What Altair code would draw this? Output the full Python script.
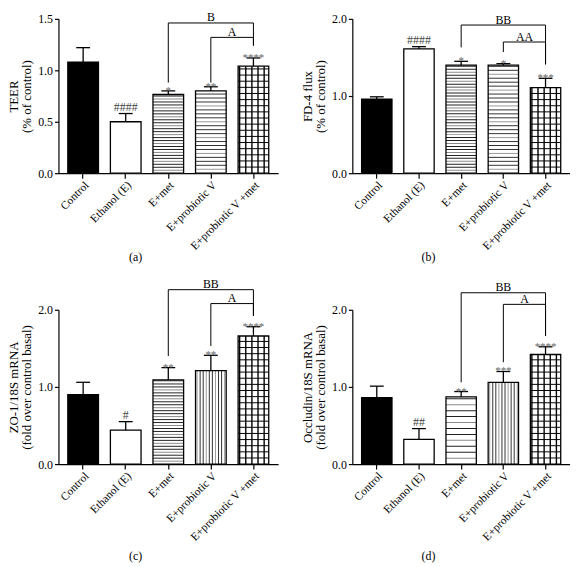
import altair as alt
import pandas as pd
import numpy as np

FONT = "Liberation Serif"

categories = ["Control", "Ethanol (E)", "E+met", "E+probiotic V", "E+probiotic V +met"]

# (a) TEER
teer_mean = [1.08, 0.50, 0.765, 0.80, 1.04]
teer_sem = [0.14, 0.08, 0.035, 0.04, 0.08]
teer_sig = ["", "####", "*", "**", "****"]
teer_br = {"outer": ("B", 1.46, 0.88, 1.24), "inner": ("A", 1.32, 0.88, 1.24)}

# (b) FD-4 flux
fd4_mean = [0.96, 1.61, 1.40, 1.40, 1.11]
fd4_sem = [0.03, 0.03, 0.05, 0.02, 0.12]
fd4_sig = ["", "####", "*", "*", "***"]
fd4_br = {"outer": ("BB", 1.92, 1.63, 1.41), "inner": ("AA", 1.70, 1.57, 1.41)}

# (c) ZO-1/18S mRNA
zo1_mean = [0.90, 0.44, 1.09, 1.21, 1.66]
zo1_sem = [0.16, 0.11, 0.16, 0.20, 0.12]
zo1_sig = ["", "#", "**", "**", "****"]
zo1_br = {"outer": ("BB", 2.26, 1.40, 1.92), "inner": ("A", 2.08, 1.53, 1.92)}

# (d) Occludin/18S mRNA
occ_mean = [0.86, 0.32, 0.87, 1.06, 1.42]
occ_sem = [0.15, 0.14, 0.07, 0.14, 0.10]
occ_sig = ["", "##", "**", "***", "****"]
occ_br = {"outer": ("BB", 2.22, 1.06, 1.66), "inner": ("A", 2.07, 1.32, 1.66)}

# bar fill patterns per panel (style only)
patterns_top = ["solid", "open", "hdense", "hline", "grid"]
patterns_bot = ["solid", "open", "hdense", "vline", "grid"]


def panel(letter, ytitle, means, sems, sig, br, ymax, width, height, patterns,
          hstep_px=3.0, title_offset=0):
    px_per_unit = height / ymax
    xscale = alt.Scale(domain=categories, paddingInner=0.28, paddingOuter=0.22)
    step = width / (5 - 0.28 + 0.44)
    bw = step * 0.72
    yscale = alt.Scale(domain=[0, ymax], nice=False, zero=True)
    xaxis = alt.Axis(title=None, labelAngle=-45, labelAlign="right", labelBaseline="top",
                     tickSize=5, labelPadding=1, labelFontSize=11.5, labelFont=FONT,
                     domainColor="black", tickColor="black", labelColor="black",
                     domainWidth=1.2, tickWidth=1.2)
    yaxis = alt.Axis(title=ytitle, values=list(np.arange(0, ymax + 0.01, 0.5)), format=".1f",
                     tickSize=4, labelFontSize=12, labelFont=FONT, labelPadding=2,
                     titleFont=FONT, titleFontSize=13, titleFontWeight="normal",
                     titleLineHeight=13, titlePadding=4, domainColor="black",
                     tickColor="black", labelColor="black", titleColor="black", grid=False,
                     domainWidth=1.2, tickWidth=1.2)
    X = alt.X("cat:N", sort=categories, scale=xscale, axis=xaxis)

    df = pd.DataFrame({
        "cat": categories,
        "mean": means,
        "top": [m + s for m, s in zip(means, sems)],
        "sig": sig,
        "fill": ["black" if p == "solid" else "white" for p in patterns],
        "kind": ["hash" if s.startswith("#") else "star" for s in sig],
    })

    # pattern lines (decoration only)
    hrows, vrows = [], []
    for c, m, p in zip(categories, means, patterns):
        if p == "hdense":
            st = hstep_px / px_per_unit
            for i, yv in enumerate(np.arange(st, m, st)):
                hrows.append({"cat": c, "y": yv, "col": "#222222" if i % 3 else "#8a8a8a", "w": 1.0})
        elif p == "hline":
            st = 4.0 / px_per_unit
            for i, yv in enumerate(np.arange(st, m, st)):
                hrows.append({"cat": c, "y": yv, "col": "#333333" if i % 4 else "#999999", "w": 1.0})
        elif p == "vline":
            for s in range(10):
                vrows.append({"cat": c, "sub": s, "y0": 0, "y1": m,
                              "col": "#333333" if s % 3 else "#999999", "w": 1.0})
        elif p == "grid":
            st = 6.2 / px_per_unit
            for yv in np.arange(st, m, st):
                hrows.append({"cat": c, "y": yv, "col": "black", "w": 1.4})
            for s in range(0, 10, 2):
                vrows.append({"cat": c, "sub": s, "y0": 0, "y1": m, "col": "black", "w": 1.4})
    hdf = pd.DataFrame(hrows)
    vdf = pd.DataFrame(vrows)

    base = alt.Chart(df)
    bars = base.mark_bar(strokeWidth=0).encode(
        x=X, y=alt.Y("mean:Q", scale=yscale, axis=yaxis),
        fill=alt.Fill("fill:N", scale=None))
    hl = alt.Chart(hdf).mark_tick(size=bw, opacity=1).encode(
        x=alt.X("cat:N", sort=categories), y="y:Q",
        color=alt.Color("col:N", scale=None), strokeWidth=alt.StrokeWidth("w:Q", scale=None))
    layers = [bars, hl]
    if len(vdf):
        vl = alt.Chart(vdf).mark_rule(opacity=1).encode(
            x=alt.X("cat:N", sort=categories),
            xOffset=alt.XOffset("sub:O", scale=alt.Scale(domain=list(range(10)))),
            y="y0:Q", y2="y1:Q",
            color=alt.Color("col:N", scale=None), strokeWidth=alt.StrokeWidth("w:Q", scale=None))
        layers.append(vl)
    outline = base.mark_bar(fillOpacity=0, stroke="black", strokeWidth=1.3).encode(x="cat:N", y="mean:Q")
    err = base.mark_rule(color="black", strokeWidth=1.3).encode(x="cat:N", y="mean:Q", y2="top:Q")
    cap = base.mark_tick(size=14, thickness=1.3, color="black", opacity=1).encode(x="cat:N", y="top:Q")
    stars = base.transform_filter("datum.kind == 'star'").mark_text(
        font=FONT, fontSize=11, color="#666666", baseline="alphabetic", dy=3).encode(
        x="cat:N", y="top:Q", text="sig:N")
    hashes = base.transform_filter("datum.kind == 'hash' && datum.sig != ''").mark_text(
        font=FONT, fontSize=12, color="#444444", baseline="alphabetic", dy=-3).encode(
        x="cat:N", y="top:Q", text="sig:N")
    layers += [outline, err, cap, stars, hashes]

    # brackets
    brows, lrows = [], []
    spans = {"outer": ("E+met", "E+probiotic V +met"), "inner": ("E+probiotic V", "E+probiotic V +met")}
    for key, (lab, level, lbot, rbot) in br.items():
        l, r = spans[key]
        brows += [{"id": key, "o": 0, "cat": l, "y": lbot}, {"id": key, "o": 1, "cat": l, "y": level},
                  {"id": key, "o": 2, "cat": r, "y": level}, {"id": key, "o": 3, "cat": r, "y": rbot}]
        lrows.append({"id": key, "cat": "E+probiotic V", "y": level, "lab": lab})
    bdf = pd.DataFrame(brows)
    ldf = pd.DataFrame(lrows)
    blines = alt.Chart(bdf).mark_line(color="black", strokeWidth=1).encode(
        x=alt.X("cat:N", sort=categories), y="y:Q", detail="id:N", order="o:Q")
    lab_outer = alt.Chart(ldf).transform_filter("datum.id == 'outer'").mark_text(
        font=FONT, fontSize=12, color="black", baseline="alphabetic", dy=-1.5).encode(
        x=alt.X("cat:N", sort=categories), y="y:Q", text="lab:N")
    lab_inner = alt.Chart(ldf).transform_filter("datum.id == 'inner'").mark_text(
        font=FONT, fontSize=12, color="black", baseline="alphabetic", dy=-1.5, dx=step / 2).encode(
        x=alt.X("cat:N", sort=categories), y="y:Q", text="lab:N")
    layers += [blines, lab_outer, lab_inner]

    return alt.layer(*layers).properties(
        width=width, height=height,
        title=alt.TitleParams(letter, orient="bottom", anchor="middle", font=FONT, fontSize=12,
                              fontWeight="normal", color="black", offset=title_offset, dx=-33,
                              frame="group"))


pa = panel("(a)", ["TEER", "(% of control)"], teer_mean, teer_sem, teer_sig, teer_br,
           1.5, 222, 156, patterns_top, title_offset=0)
pb = panel("(b)", ["FD-4 flux", "(% of control)"], fd4_mean, fd4_sem, fd4_sig, fd4_br,
           2.0, 220, 156, patterns_top, title_offset=0)
pc = panel("(c)", ["ZO-1/18S mRNA", "(fold over control basal)"], zo1_mean, zo1_sem, zo1_sig, zo1_br,
           2.0, 222, 156, patterns_bot, title_offset=8)
pd_ = panel("(d)", ["Occludin/18S mRNA", "(fold over control basal)"], occ_mean, occ_sem, occ_sig, occ_br,
            2.0, 220, 156, patterns_bot, hstep_px=6.0, title_offset=8)

chart = alt.concat(pa, pb, pc, pd_, columns=2, spacing={"row": 138, "column": 75}, bounds="flush").properties(
    padding=0, background="white").configure_view(stroke=None)

chart.save("out.html", embed_options={"renderer": "svg", "actions": False})
